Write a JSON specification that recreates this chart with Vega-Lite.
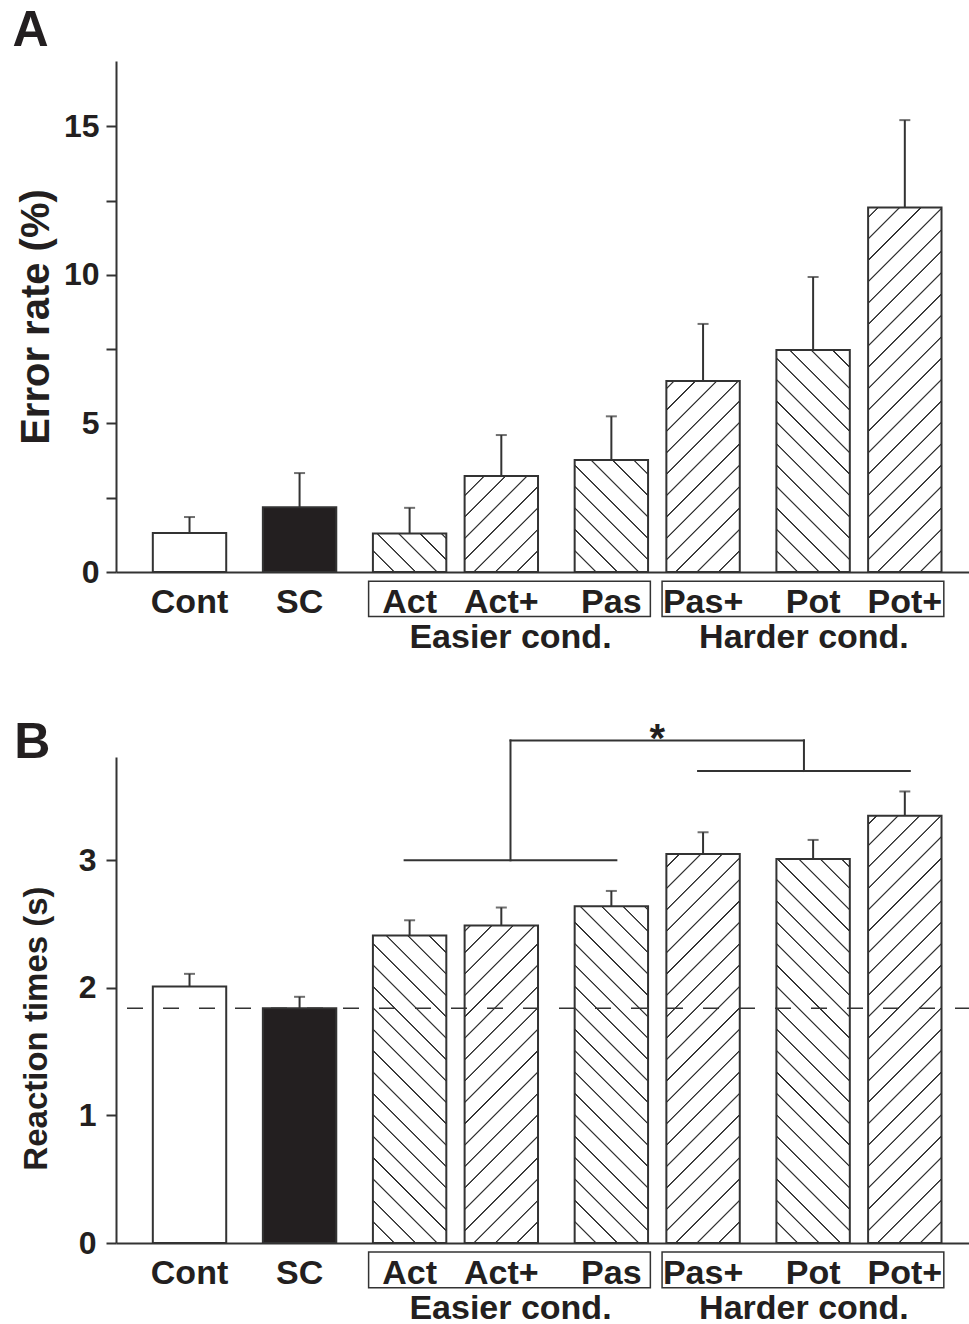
{
  "$schema": "https://vega.github.io/schema/vega-lite/v6.json",
  "background": "white",
  "padding": {"left": 12, "top": 6, "right": 0, "bottom": 0},
  "config": {
    "font": "Liberation Sans",
    "view": {"stroke": null},
    "concat": {"spacing": 63},
    "axis": {"grid": false, "domainColor": "#333", "domainWidth": 2, "tickColor": "#333", "tickWidth": 2, "labelColor": "#231f20", "titleColor": "#231f20", "labelFontWeight": "bold", "titleFontWeight": "bold"}
  },
  "datasets": {
    "errA": [
      {"cond": "Cont", "mean": 1.31, "upper": 1.85},
      {"cond": "SC", "mean": 2.18, "upper": 3.33},
      {"cond": "Act", "mean": 1.30, "upper": 2.16},
      {"cond": "Act+", "mean": 3.23, "upper": 4.61},
      {"cond": "Pas", "mean": 3.77, "upper": 5.24},
      {"cond": "Pas+", "mean": 6.43, "upper": 8.35},
      {"cond": "Pot", "mean": 7.47, "upper": 9.93},
      {"cond": "Pot+", "mean": 12.27, "upper": 15.21}
    ],
    "rtB": [
      {"cond": "Cont", "mean": 2.01, "upper": 2.11},
      {"cond": "SC", "mean": 1.84, "upper": 1.93},
      {"cond": "Act", "mean": 2.41, "upper": 2.53},
      {"cond": "Act+", "mean": 2.49, "upper": 2.63},
      {"cond": "Pas", "mean": 2.64, "upper": 2.76},
      {"cond": "Pas+", "mean": 3.05, "upper": 3.22},
      {"cond": "Pot", "mean": 3.01, "upper": 3.16},
      {"cond": "Pot+", "mean": 3.35, "upper": 3.54}
    ],
    "groups": [
      {"cond": "Act", "cond2": "Pas", "group": "Easier cond."},
      {"cond": "Pas+", "cond2": "Pot+", "group": "Harder cond."}
    ],
    "brLines": [
      {"cond": "Act", "cond2": "Pas", "y": 3.0},
      {"cond": "Pas+", "cond2": "Pot+", "y": 3.7}
    ],
    "brTop": [
      {"cond": "Easier cond.", "cond2": "Harder cond.", "y": 3.94, "y2": 3.94},
      {"cond": "Easier cond.", "cond2": "Easier cond.", "y": 3.0, "y2": 3.94},
      {"cond": "Harder cond.", "cond2": "Harder cond.", "y": 3.7, "y2": 3.94}
    ],
    "star": [{"cond": "sig", "y": 3.94, "label": "*"}]
  },
  "vconcat": [
    {
      "width": 855,
      "height": 511,
      "title": {"text": "A", "anchor": "start", "frame": "bounds", "fontSize": 50, "fontWeight": "bold", "baseline": "alphabetic", "offset": -35, "dx": -4, "color": "#231f20"},
      "data": {"name": "errA"},
      "encoding": {
        "x": {
          "field": "cond", "type": "nominal", "title": null,
          "scale": {"type": "band", "paddingInner": 0, "paddingOuter": 0.617, "align": 0.419, "round": false,
            "domain": ["_m7","_m6","_m5","_m4","_m3","_m2","_m1","Cont","_1","_2","_3","_4","_5","_6","_7","_8","_9","_10","_11","SC","_13","_14","_15","_16","_17","_18","_19","_20","_21","_22","_23","Act","_25","_26","_27","_28","_29","_30","_31","_32","_33","Act+","Easier cond.","_36","_37","_38","_39","_40","_41","_42","_43","_44","_45","Pas","_47","_48","_49","_50","sig","_52","_53","_54","_55","Pas+","_57","_58","_59","_60","_61","_62","_63","_64","_65","_66","Harder cond.","Pot","_69","_70","_71","_72","_73","_74","_75","_76","_77","Pot+","_79","_80","_81","_82","_83","_84"]},
          "axis": {
            "values": ["Cont","SC","Act","Act+","Pas","Pas+","Pot","Pot+","Easier cond.","Harder cond."],
            "labelExpr": "indexof(['Easier cond.','Harder cond.'], datum.value) >= 0 ? ['', datum.value] : datum.value",
            "ticks": false, "tickSize": 0, "labelPadding": 13.5, "labelFontSize": 34, "labelLineHeight": 35, "labelLimit": 500,
            "labelAngle": 0, "labelOverlap": false, "labelBound": false, "title": null
          }
        },
        "y": {
          "type": "quantitative", "scale": {"domain": [0, 17.2], "nice": false},
          "axis": {"values": [0, 2.5, 5, 7.5, 10, 12.5, 15], "format": "d", "labelExpr": "datum.value % 5 === 0 ? datum.label : ''",
            "title": "Error rate (%)", "titleFontSize": 40, "titlePadding": 7, "labelFontSize": 32, "labelPadding": 7, "tickSize": 10, "labelOverlap": false}
        }
      },
      "layer": [
        {
          "transform": [{"filter": "indexof(['Act+','Pas+','Pot+'], datum.cond) >= 0"}],
          "mark": {"type": "bar", "width": 73.4, "stroke": null, "fill": {"gradient": "linear", "x1": 0, "y1": 0, "x2": 0.1893, "y2": 1.1352, "stops": [
            {"offset": 0, "color": "#fff"},
            {"offset": 0.0392, "color": "#fff"}, {"offset": 0.0407, "color": "#333"}, {"offset": 0.0427, "color": "#333"}, {"offset": 0.0442, "color": "#fff"},
            {"offset": 0.0808, "color": "#fff"}, {"offset": 0.0823, "color": "#333"}, {"offset": 0.0843, "color": "#333"}, {"offset": 0.0858, "color": "#fff"},
            {"offset": 0.1225, "color": "#fff"}, {"offset": 0.1240, "color": "#333"}, {"offset": 0.1260, "color": "#333"}, {"offset": 0.1275, "color": "#fff"},
            {"offset": 0.1642, "color": "#fff"}, {"offset": 0.1657, "color": "#333"}, {"offset": 0.1677, "color": "#333"}, {"offset": 0.1692, "color": "#fff"},
            {"offset": 0.2058, "color": "#fff"}, {"offset": 0.2073, "color": "#333"}, {"offset": 0.2093, "color": "#333"}, {"offset": 0.2108, "color": "#fff"},
            {"offset": 0.2475, "color": "#fff"}, {"offset": 0.2490, "color": "#333"}, {"offset": 0.2510, "color": "#333"}, {"offset": 0.2525, "color": "#fff"},
            {"offset": 0.2892, "color": "#fff"}, {"offset": 0.2907, "color": "#333"}, {"offset": 0.2927, "color": "#333"}, {"offset": 0.2942, "color": "#fff"},
            {"offset": 0.3308, "color": "#fff"}, {"offset": 0.3323, "color": "#333"}, {"offset": 0.3343, "color": "#333"}, {"offset": 0.3358, "color": "#fff"},
            {"offset": 0.3725, "color": "#fff"}, {"offset": 0.3740, "color": "#333"}, {"offset": 0.3760, "color": "#333"}, {"offset": 0.3775, "color": "#fff"},
            {"offset": 0.4142, "color": "#fff"}, {"offset": 0.4157, "color": "#333"}, {"offset": 0.4177, "color": "#333"}, {"offset": 0.4192, "color": "#fff"},
            {"offset": 0.4558, "color": "#fff"}, {"offset": 0.4573, "color": "#333"}, {"offset": 0.4593, "color": "#333"}, {"offset": 0.4608, "color": "#fff"},
            {"offset": 0.4975, "color": "#fff"}, {"offset": 0.4990, "color": "#333"}, {"offset": 0.5010, "color": "#333"}, {"offset": 0.5025, "color": "#fff"},
            {"offset": 0.5392, "color": "#fff"}, {"offset": 0.5407, "color": "#333"}, {"offset": 0.5427, "color": "#333"}, {"offset": 0.5442, "color": "#fff"},
            {"offset": 0.5808, "color": "#fff"}, {"offset": 0.5823, "color": "#333"}, {"offset": 0.5843, "color": "#333"}, {"offset": 0.5858, "color": "#fff"},
            {"offset": 0.6225, "color": "#fff"}, {"offset": 0.6240, "color": "#333"}, {"offset": 0.6260, "color": "#333"}, {"offset": 0.6275, "color": "#fff"},
            {"offset": 0.6642, "color": "#fff"}, {"offset": 0.6657, "color": "#333"}, {"offset": 0.6677, "color": "#333"}, {"offset": 0.6692, "color": "#fff"},
            {"offset": 0.7058, "color": "#fff"}, {"offset": 0.7073, "color": "#333"}, {"offset": 0.7093, "color": "#333"}, {"offset": 0.7108, "color": "#fff"},
            {"offset": 0.7475, "color": "#fff"}, {"offset": 0.7490, "color": "#333"}, {"offset": 0.7510, "color": "#333"}, {"offset": 0.7525, "color": "#fff"},
            {"offset": 0.7892, "color": "#fff"}, {"offset": 0.7907, "color": "#333"}, {"offset": 0.7927, "color": "#333"}, {"offset": 0.7942, "color": "#fff"},
            {"offset": 0.8308, "color": "#fff"}, {"offset": 0.8323, "color": "#333"}, {"offset": 0.8343, "color": "#333"}, {"offset": 0.8358, "color": "#fff"},
            {"offset": 0.8725, "color": "#fff"}, {"offset": 0.8740, "color": "#333"}, {"offset": 0.8760, "color": "#333"}, {"offset": 0.8775, "color": "#fff"},
            {"offset": 0.9142, "color": "#fff"}, {"offset": 0.9157, "color": "#333"}, {"offset": 0.9177, "color": "#333"}, {"offset": 0.9192, "color": "#fff"},
            {"offset": 0.9558, "color": "#fff"}, {"offset": 0.9573, "color": "#333"}, {"offset": 0.9593, "color": "#333"}, {"offset": 0.9608, "color": "#fff"},
            {"offset": 1, "color": "#fff"}]}},
          "encoding": {"y": {"datum": 14.81}, "y2": {"datum": 0}}
        },
        {
          "transform": [{"filter": "indexof(['Act','Pas','Pot'], datum.cond) >= 0"}],
          "mark": {"type": "bar", "width": 73.4, "stroke": null, "fill": {"gradient": "linear", "x1": 1, "y1": 0, "x2": 0.8107, "y2": 1.1352, "stops": [
            {"offset": 0, "color": "#fff"},
            {"offset": 0.0392, "color": "#fff"}, {"offset": 0.0407, "color": "#333"}, {"offset": 0.0427, "color": "#333"}, {"offset": 0.0442, "color": "#fff"},
            {"offset": 0.0808, "color": "#fff"}, {"offset": 0.0823, "color": "#333"}, {"offset": 0.0843, "color": "#333"}, {"offset": 0.0858, "color": "#fff"},
            {"offset": 0.1225, "color": "#fff"}, {"offset": 0.1240, "color": "#333"}, {"offset": 0.1260, "color": "#333"}, {"offset": 0.1275, "color": "#fff"},
            {"offset": 0.1642, "color": "#fff"}, {"offset": 0.1657, "color": "#333"}, {"offset": 0.1677, "color": "#333"}, {"offset": 0.1692, "color": "#fff"},
            {"offset": 0.2058, "color": "#fff"}, {"offset": 0.2073, "color": "#333"}, {"offset": 0.2093, "color": "#333"}, {"offset": 0.2108, "color": "#fff"},
            {"offset": 0.2475, "color": "#fff"}, {"offset": 0.2490, "color": "#333"}, {"offset": 0.2510, "color": "#333"}, {"offset": 0.2525, "color": "#fff"},
            {"offset": 0.2892, "color": "#fff"}, {"offset": 0.2907, "color": "#333"}, {"offset": 0.2927, "color": "#333"}, {"offset": 0.2942, "color": "#fff"},
            {"offset": 0.3308, "color": "#fff"}, {"offset": 0.3323, "color": "#333"}, {"offset": 0.3343, "color": "#333"}, {"offset": 0.3358, "color": "#fff"},
            {"offset": 0.3725, "color": "#fff"}, {"offset": 0.3740, "color": "#333"}, {"offset": 0.3760, "color": "#333"}, {"offset": 0.3775, "color": "#fff"},
            {"offset": 0.4142, "color": "#fff"}, {"offset": 0.4157, "color": "#333"}, {"offset": 0.4177, "color": "#333"}, {"offset": 0.4192, "color": "#fff"},
            {"offset": 0.4558, "color": "#fff"}, {"offset": 0.4573, "color": "#333"}, {"offset": 0.4593, "color": "#333"}, {"offset": 0.4608, "color": "#fff"},
            {"offset": 0.4975, "color": "#fff"}, {"offset": 0.4990, "color": "#333"}, {"offset": 0.5010, "color": "#333"}, {"offset": 0.5025, "color": "#fff"},
            {"offset": 0.5392, "color": "#fff"}, {"offset": 0.5407, "color": "#333"}, {"offset": 0.5427, "color": "#333"}, {"offset": 0.5442, "color": "#fff"},
            {"offset": 0.5808, "color": "#fff"}, {"offset": 0.5823, "color": "#333"}, {"offset": 0.5843, "color": "#333"}, {"offset": 0.5858, "color": "#fff"},
            {"offset": 0.6225, "color": "#fff"}, {"offset": 0.6240, "color": "#333"}, {"offset": 0.6260, "color": "#333"}, {"offset": 0.6275, "color": "#fff"},
            {"offset": 0.6642, "color": "#fff"}, {"offset": 0.6657, "color": "#333"}, {"offset": 0.6677, "color": "#333"}, {"offset": 0.6692, "color": "#fff"},
            {"offset": 0.7058, "color": "#fff"}, {"offset": 0.7073, "color": "#333"}, {"offset": 0.7093, "color": "#333"}, {"offset": 0.7108, "color": "#fff"},
            {"offset": 0.7475, "color": "#fff"}, {"offset": 0.7490, "color": "#333"}, {"offset": 0.7510, "color": "#333"}, {"offset": 0.7525, "color": "#fff"},
            {"offset": 0.7892, "color": "#fff"}, {"offset": 0.7907, "color": "#333"}, {"offset": 0.7927, "color": "#333"}, {"offset": 0.7942, "color": "#fff"},
            {"offset": 0.8308, "color": "#fff"}, {"offset": 0.8323, "color": "#333"}, {"offset": 0.8343, "color": "#333"}, {"offset": 0.8358, "color": "#fff"},
            {"offset": 0.8725, "color": "#fff"}, {"offset": 0.8740, "color": "#333"}, {"offset": 0.8760, "color": "#333"}, {"offset": 0.8775, "color": "#fff"},
            {"offset": 0.9142, "color": "#fff"}, {"offset": 0.9157, "color": "#333"}, {"offset": 0.9177, "color": "#333"}, {"offset": 0.9192, "color": "#fff"},
            {"offset": 0.9558, "color": "#fff"}, {"offset": 0.9573, "color": "#333"}, {"offset": 0.9593, "color": "#333"}, {"offset": 0.9608, "color": "#fff"},
            {"offset": 1, "color": "#fff"}]}},
          "encoding": {"y": {"datum": 14.81}, "y2": {"datum": 0}}
        },
        {
          "transform": [{"filter": "indexof(['Cont','SC'], datum.cond) < 0"}],
          "mark": {"type": "bar", "fill": "white", "width": 76, "stroke": null},
          "encoding": {"y": {"field": "mean"}, "y2": {"datum": 14.81}}
        },
        {
          "mark": {"type": "bar", "width": 73.4, "stroke": "#333", "strokeWidth": 2},
          "encoding": {
            "y": {"field": "mean"},
            "fill": {"condition": [{"test": "datum.cond === 'SC'", "value": "#231f20"}, {"test": "datum.cond === 'Cont'", "value": "white"}], "value": "transparent"}
          }
        },
        {
          "mark": {"type": "rule", "color": "#333", "strokeWidth": 2},
          "encoding": {"y": {"field": "mean"}, "y2": {"field": "upper"}}
        },
        {
          "mark": {"type": "tick", "color": "#333", "thickness": 2, "size": 11, "orient": "horizontal"},
          "encoding": {"y": {"field": "upper"}}
        },
        {
          "data": {"name": "groups"},
          "mark": {"type": "rect", "fill": null, "stroke": "#333", "strokeWidth": 1.5, "xOffset": -41, "x2Offset": 39},
          "encoding": {"x2": {"field": "cond2"}, "y": {"datum": -0.31}, "y2": {"datum": -1.5}}
        }
      ]
    },
    {
      "width": 855,
      "height": 486,
      "title": {"text": "B", "anchor": "start", "frame": "bounds", "fontSize": 50, "fontWeight": "bold", "baseline": "alphabetic", "offset": -88, "dx": -6, "color": "#231f20"},
      "data": {"name": "rtB"},
      "encoding": {
        "x": {
          "field": "cond", "type": "nominal", "title": null,
          "scale": {"type": "band", "paddingInner": 0, "paddingOuter": 0.617, "align": 0.419, "round": false,
            "domain": ["_m7","_m6","_m5","_m4","_m3","_m2","_m1","Cont","_1","_2","_3","_4","_5","_6","_7","_8","_9","_10","_11","SC","_13","_14","_15","_16","_17","_18","_19","_20","_21","_22","_23","Act","_25","_26","_27","_28","_29","_30","_31","_32","_33","Act+","Easier cond.","_36","_37","_38","_39","_40","_41","_42","_43","_44","_45","Pas","_47","_48","_49","_50","sig","_52","_53","_54","_55","Pas+","_57","_58","_59","_60","_61","_62","_63","_64","_65","_66","Harder cond.","Pot","_69","_70","_71","_72","_73","_74","_75","_76","_77","Pot+","_79","_80","_81","_82","_83","_84"]},
          "axis": {
            "values": ["Cont","SC","Act","Act+","Pas","Pas+","Pot","Pot+","Easier cond.","Harder cond."],
            "labelExpr": "indexof(['Easier cond.','Harder cond.'], datum.value) >= 0 ? ['', datum.value] : datum.value",
            "ticks": false, "tickSize": 0, "labelPadding": 13.5, "labelFontSize": 34, "labelLineHeight": 35, "labelLimit": 500,
            "labelAngle": 0, "labelOverlap": false, "labelBound": false, "title": null
          }
        },
        "y": {
          "type": "quantitative", "scale": {"domain": [0, 3.81], "nice": false},
          "axis": {"values": [0, 0.5, 1, 1.5, 2, 2.5, 3, 3.5], "format": "d", "labelExpr": "datum.value % 1 === 0 ? datum.label : ''",
            "title": "Reaction times (s)", "titleFontSize": 33, "titlePadding": 25, "titleY": 271, "labelFontSize": 32, "labelPadding": 10, "tickSize": 10, "labelOverlap": false}
        }
      },
      "layer": [
        {
          "transform": [{"filter": "indexof(['Act+','Pas+','Pot+'], datum.cond) >= 0"}],
          "mark": {"type": "bar", "width": 73.4, "stroke": null, "fill": {"gradient": "linear", "x1": 0, "y1": 0, "x2": 0.1893, "y2": 1.1352, "stops": [
            {"offset": 0, "color": "#fff"},
            {"offset": 0.0392, "color": "#fff"}, {"offset": 0.0407, "color": "#333"}, {"offset": 0.0427, "color": "#333"}, {"offset": 0.0442, "color": "#fff"},
            {"offset": 0.0808, "color": "#fff"}, {"offset": 0.0823, "color": "#333"}, {"offset": 0.0843, "color": "#333"}, {"offset": 0.0858, "color": "#fff"},
            {"offset": 0.1225, "color": "#fff"}, {"offset": 0.1240, "color": "#333"}, {"offset": 0.1260, "color": "#333"}, {"offset": 0.1275, "color": "#fff"},
            {"offset": 0.1642, "color": "#fff"}, {"offset": 0.1657, "color": "#333"}, {"offset": 0.1677, "color": "#333"}, {"offset": 0.1692, "color": "#fff"},
            {"offset": 0.2058, "color": "#fff"}, {"offset": 0.2073, "color": "#333"}, {"offset": 0.2093, "color": "#333"}, {"offset": 0.2108, "color": "#fff"},
            {"offset": 0.2475, "color": "#fff"}, {"offset": 0.2490, "color": "#333"}, {"offset": 0.2510, "color": "#333"}, {"offset": 0.2525, "color": "#fff"},
            {"offset": 0.2892, "color": "#fff"}, {"offset": 0.2907, "color": "#333"}, {"offset": 0.2927, "color": "#333"}, {"offset": 0.2942, "color": "#fff"},
            {"offset": 0.3308, "color": "#fff"}, {"offset": 0.3323, "color": "#333"}, {"offset": 0.3343, "color": "#333"}, {"offset": 0.3358, "color": "#fff"},
            {"offset": 0.3725, "color": "#fff"}, {"offset": 0.3740, "color": "#333"}, {"offset": 0.3760, "color": "#333"}, {"offset": 0.3775, "color": "#fff"},
            {"offset": 0.4142, "color": "#fff"}, {"offset": 0.4157, "color": "#333"}, {"offset": 0.4177, "color": "#333"}, {"offset": 0.4192, "color": "#fff"},
            {"offset": 0.4558, "color": "#fff"}, {"offset": 0.4573, "color": "#333"}, {"offset": 0.4593, "color": "#333"}, {"offset": 0.4608, "color": "#fff"},
            {"offset": 0.4975, "color": "#fff"}, {"offset": 0.4990, "color": "#333"}, {"offset": 0.5010, "color": "#333"}, {"offset": 0.5025, "color": "#fff"},
            {"offset": 0.5392, "color": "#fff"}, {"offset": 0.5407, "color": "#333"}, {"offset": 0.5427, "color": "#333"}, {"offset": 0.5442, "color": "#fff"},
            {"offset": 0.5808, "color": "#fff"}, {"offset": 0.5823, "color": "#333"}, {"offset": 0.5843, "color": "#333"}, {"offset": 0.5858, "color": "#fff"},
            {"offset": 0.6225, "color": "#fff"}, {"offset": 0.6240, "color": "#333"}, {"offset": 0.6260, "color": "#333"}, {"offset": 0.6275, "color": "#fff"},
            {"offset": 0.6642, "color": "#fff"}, {"offset": 0.6657, "color": "#333"}, {"offset": 0.6677, "color": "#333"}, {"offset": 0.6692, "color": "#fff"},
            {"offset": 0.7058, "color": "#fff"}, {"offset": 0.7073, "color": "#333"}, {"offset": 0.7093, "color": "#333"}, {"offset": 0.7108, "color": "#fff"},
            {"offset": 0.7475, "color": "#fff"}, {"offset": 0.7490, "color": "#333"}, {"offset": 0.7510, "color": "#333"}, {"offset": 0.7525, "color": "#fff"},
            {"offset": 0.7892, "color": "#fff"}, {"offset": 0.7907, "color": "#333"}, {"offset": 0.7927, "color": "#333"}, {"offset": 0.7942, "color": "#fff"},
            {"offset": 0.8308, "color": "#fff"}, {"offset": 0.8323, "color": "#333"}, {"offset": 0.8343, "color": "#333"}, {"offset": 0.8358, "color": "#fff"},
            {"offset": 0.8725, "color": "#fff"}, {"offset": 0.8740, "color": "#333"}, {"offset": 0.8760, "color": "#333"}, {"offset": 0.8775, "color": "#fff"},
            {"offset": 0.9142, "color": "#fff"}, {"offset": 0.9157, "color": "#333"}, {"offset": 0.9177, "color": "#333"}, {"offset": 0.9192, "color": "#fff"},
            {"offset": 0.9558, "color": "#fff"}, {"offset": 0.9573, "color": "#333"}, {"offset": 0.9593, "color": "#333"}, {"offset": 0.9608, "color": "#fff"},
            {"offset": 1, "color": "#fff"}]}},
          "encoding": {"y": {"datum": 3.4494}, "y2": {"datum": 0}}
        },
        {
          "transform": [{"filter": "indexof(['Act','Pas','Pot'], datum.cond) >= 0"}],
          "mark": {"type": "bar", "width": 73.4, "stroke": null, "fill": {"gradient": "linear", "x1": 1, "y1": 0, "x2": 0.8107, "y2": 1.1352, "stops": [
            {"offset": 0, "color": "#fff"},
            {"offset": 0.0392, "color": "#fff"}, {"offset": 0.0407, "color": "#333"}, {"offset": 0.0427, "color": "#333"}, {"offset": 0.0442, "color": "#fff"},
            {"offset": 0.0808, "color": "#fff"}, {"offset": 0.0823, "color": "#333"}, {"offset": 0.0843, "color": "#333"}, {"offset": 0.0858, "color": "#fff"},
            {"offset": 0.1225, "color": "#fff"}, {"offset": 0.1240, "color": "#333"}, {"offset": 0.1260, "color": "#333"}, {"offset": 0.1275, "color": "#fff"},
            {"offset": 0.1642, "color": "#fff"}, {"offset": 0.1657, "color": "#333"}, {"offset": 0.1677, "color": "#333"}, {"offset": 0.1692, "color": "#fff"},
            {"offset": 0.2058, "color": "#fff"}, {"offset": 0.2073, "color": "#333"}, {"offset": 0.2093, "color": "#333"}, {"offset": 0.2108, "color": "#fff"},
            {"offset": 0.2475, "color": "#fff"}, {"offset": 0.2490, "color": "#333"}, {"offset": 0.2510, "color": "#333"}, {"offset": 0.2525, "color": "#fff"},
            {"offset": 0.2892, "color": "#fff"}, {"offset": 0.2907, "color": "#333"}, {"offset": 0.2927, "color": "#333"}, {"offset": 0.2942, "color": "#fff"},
            {"offset": 0.3308, "color": "#fff"}, {"offset": 0.3323, "color": "#333"}, {"offset": 0.3343, "color": "#333"}, {"offset": 0.3358, "color": "#fff"},
            {"offset": 0.3725, "color": "#fff"}, {"offset": 0.3740, "color": "#333"}, {"offset": 0.3760, "color": "#333"}, {"offset": 0.3775, "color": "#fff"},
            {"offset": 0.4142, "color": "#fff"}, {"offset": 0.4157, "color": "#333"}, {"offset": 0.4177, "color": "#333"}, {"offset": 0.4192, "color": "#fff"},
            {"offset": 0.4558, "color": "#fff"}, {"offset": 0.4573, "color": "#333"}, {"offset": 0.4593, "color": "#333"}, {"offset": 0.4608, "color": "#fff"},
            {"offset": 0.4975, "color": "#fff"}, {"offset": 0.4990, "color": "#333"}, {"offset": 0.5010, "color": "#333"}, {"offset": 0.5025, "color": "#fff"},
            {"offset": 0.5392, "color": "#fff"}, {"offset": 0.5407, "color": "#333"}, {"offset": 0.5427, "color": "#333"}, {"offset": 0.5442, "color": "#fff"},
            {"offset": 0.5808, "color": "#fff"}, {"offset": 0.5823, "color": "#333"}, {"offset": 0.5843, "color": "#333"}, {"offset": 0.5858, "color": "#fff"},
            {"offset": 0.6225, "color": "#fff"}, {"offset": 0.6240, "color": "#333"}, {"offset": 0.6260, "color": "#333"}, {"offset": 0.6275, "color": "#fff"},
            {"offset": 0.6642, "color": "#fff"}, {"offset": 0.6657, "color": "#333"}, {"offset": 0.6677, "color": "#333"}, {"offset": 0.6692, "color": "#fff"},
            {"offset": 0.7058, "color": "#fff"}, {"offset": 0.7073, "color": "#333"}, {"offset": 0.7093, "color": "#333"}, {"offset": 0.7108, "color": "#fff"},
            {"offset": 0.7475, "color": "#fff"}, {"offset": 0.7490, "color": "#333"}, {"offset": 0.7510, "color": "#333"}, {"offset": 0.7525, "color": "#fff"},
            {"offset": 0.7892, "color": "#fff"}, {"offset": 0.7907, "color": "#333"}, {"offset": 0.7927, "color": "#333"}, {"offset": 0.7942, "color": "#fff"},
            {"offset": 0.8308, "color": "#fff"}, {"offset": 0.8323, "color": "#333"}, {"offset": 0.8343, "color": "#333"}, {"offset": 0.8358, "color": "#fff"},
            {"offset": 0.8725, "color": "#fff"}, {"offset": 0.8740, "color": "#333"}, {"offset": 0.8760, "color": "#333"}, {"offset": 0.8775, "color": "#fff"},
            {"offset": 0.9142, "color": "#fff"}, {"offset": 0.9157, "color": "#333"}, {"offset": 0.9177, "color": "#333"}, {"offset": 0.9192, "color": "#fff"},
            {"offset": 0.9558, "color": "#fff"}, {"offset": 0.9573, "color": "#333"}, {"offset": 0.9593, "color": "#333"}, {"offset": 0.9608, "color": "#fff"},
            {"offset": 1, "color": "#fff"}]}},
          "encoding": {"y": {"datum": 3.4494}, "y2": {"datum": 0}}
        },
        {
          "transform": [{"filter": "indexof(['Cont','SC'], datum.cond) < 0"}],
          "mark": {"type": "bar", "fill": "white", "width": 76, "stroke": null},
          "encoding": {"y": {"field": "mean"}, "y2": {"datum": 3.4494}}
        },
        {
          "mark": {"type": "bar", "width": 73.4, "stroke": "#333", "strokeWidth": 2},
          "encoding": {
            "y": {"field": "mean"},
            "fill": {"condition": [{"test": "datum.cond === 'SC'", "value": "#231f20"}, {"test": "datum.cond === 'Cont'", "value": "white"}], "value": "transparent"}
          }
        },
        {
          "mark": {"type": "rule", "color": "#333", "strokeWidth": 2},
          "encoding": {"y": {"field": "mean"}, "y2": {"field": "upper"}}
        },
        {
          "mark": {"type": "tick", "color": "#333", "thickness": 2, "size": 11, "orient": "horizontal"},
          "encoding": {"y": {"field": "upper"}}
        },
        {
          "transform": [{"filter": "datum.cond === 'SC'"}],
          "mark": {"type": "rule", "color": "#333", "strokeWidth": 1.5, "strokeDash": [16, 20]},
          "encoding": {"x": null, "y": {"field": "mean"}}
        },
        {
          "data": {"name": "groups"},
          "mark": {"type": "rect", "fill": null, "stroke": "#333", "strokeWidth": 1.5, "xOffset": -41, "x2Offset": 39},
          "encoding": {"x2": {"field": "cond2"}, "y": {"datum": -0.07}, "y2": {"datum": -0.35}}
        },
        {
          "data": {"name": "brLines"},
          "mark": {"type": "rule", "color": "#333", "strokeWidth": 2, "xOffset": -6, "x2Offset": 6},
          "encoding": {"x2": {"field": "cond2"}, "y": {"field": "y"}}
        },
        {
          "data": {"name": "brTop"},
          "mark": {"type": "rule", "color": "#333", "strokeWidth": 2, "strokeCap": "square"},
          "encoding": {"x2": {"field": "cond2"}, "y": {"field": "y"}, "y2": {"field": "y2"}}
        },
        {
          "data": {"name": "star"},
          "mark": {"type": "text", "fontSize": 40, "fontWeight": "bold", "baseline": "alphabetic", "dy": 12, "color": "#231f20"},
          "encoding": {"y": {"field": "y"}, "text": {"field": "label"}}
        }
      ]
    }
  ]
}
